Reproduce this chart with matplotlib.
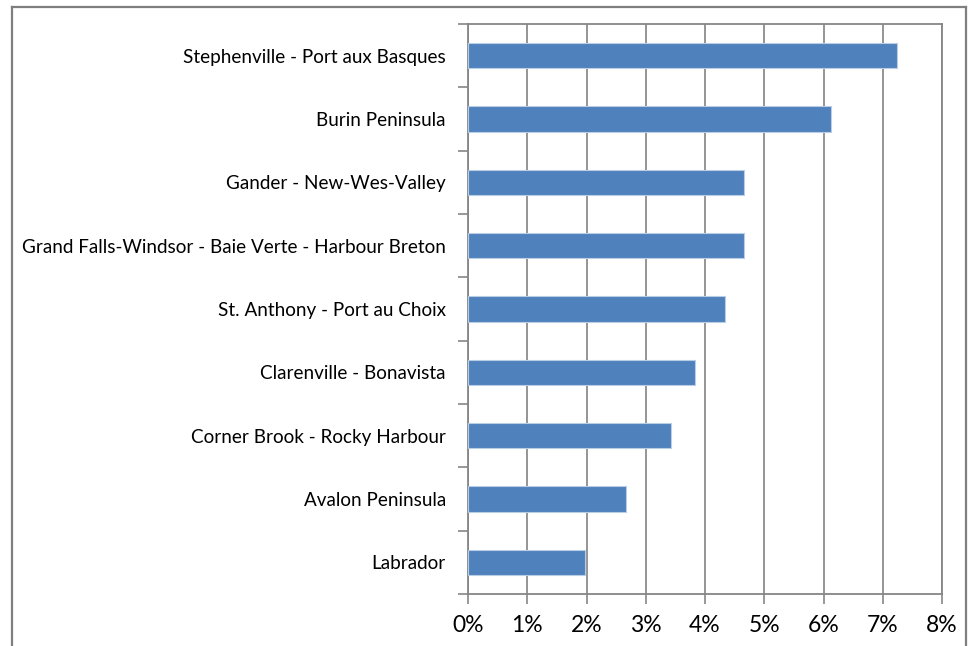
import matplotlib.pyplot as plt
from matplotlib.lines import Line2D
from matplotlib.ticker import FuncFormatter, FixedLocator
import numpy as np

plt.rcParams['font.family'] = ['Lato', 'DejaVu Sans']

regions = ['Labrador', 'Avalon Peninsula', 'Corner Brook - Rocky Harbour',
           'Clarenville - Bonavista', 'St. Anthony - Port au Choix',
           'Grand Falls-Windsor - Baie Verte - Harbour Breton',
           'Gander - New-Wes-Valley', 'Burin Peninsula',
           'Stephenville - Port aux Basques']
rates = [1.98, 2.67, 3.42, 3.83, 4.33, 4.65, 4.66, 6.12, 7.24]

grid_col = '#8c8c8c'
axis_col = '#868686'

fig = plt.figure(figsize=(9.76, 6.46), dpi=100)
ax = fig.add_axes([0.4795, 0.0805, 0.4857, 0.8824])

y = np.arange(len(regions))
ax.barh(y, rates, height=0.4, color='#4f81bd', edgecolor='#b9cde5',
        linewidth=0.8, zorder=3)

ax.set_xlim(0, 8)
ax.set_ylim(-0.5, len(regions) - 0.5)
ax.set_xticks(range(0, 9))
ax.xaxis.set_major_formatter(FuncFormatter(lambda v, p: '%d%%' % v))
ax.grid(axis='x', color=grid_col, linewidth=1.3, zorder=0)

ax.set_yticks(y)
ax.set_yticklabels(regions, fontsize=13.6)
ax.yaxis.set_minor_locator(FixedLocator(np.arange(-0.5, len(regions), 1.0)))
ax.tick_params(axis='y', which='major', length=0, pad=16)
ax.tick_params(axis='y', which='minor', length=7, width=1.2, color=axis_col)
ax.tick_params(axis='x', length=7, width=1.2, color=axis_col,
               labelsize=16.5, pad=8)

for side in ['left', 'bottom', 'top', 'right']:
    ax.spines[side].set_color(axis_col)
    ax.spines[side].set_linewidth(1.3)

# outer chart frame (runs off the bottom edge)
x0, x1, ytop = 0.0123, 0.9898, 0.989
for xs, ys in [([x0, x0], [-0.1, ytop]), ([x0, x1], [ytop, ytop]),
               ([x1, x1], [ytop, -0.1])]:
    fig.add_artist(Line2D(xs, ys, transform=fig.transFigure,
                          color='#7f7f7f', linewidth=1.6))

fig.savefig('out.png', dpi=100)
